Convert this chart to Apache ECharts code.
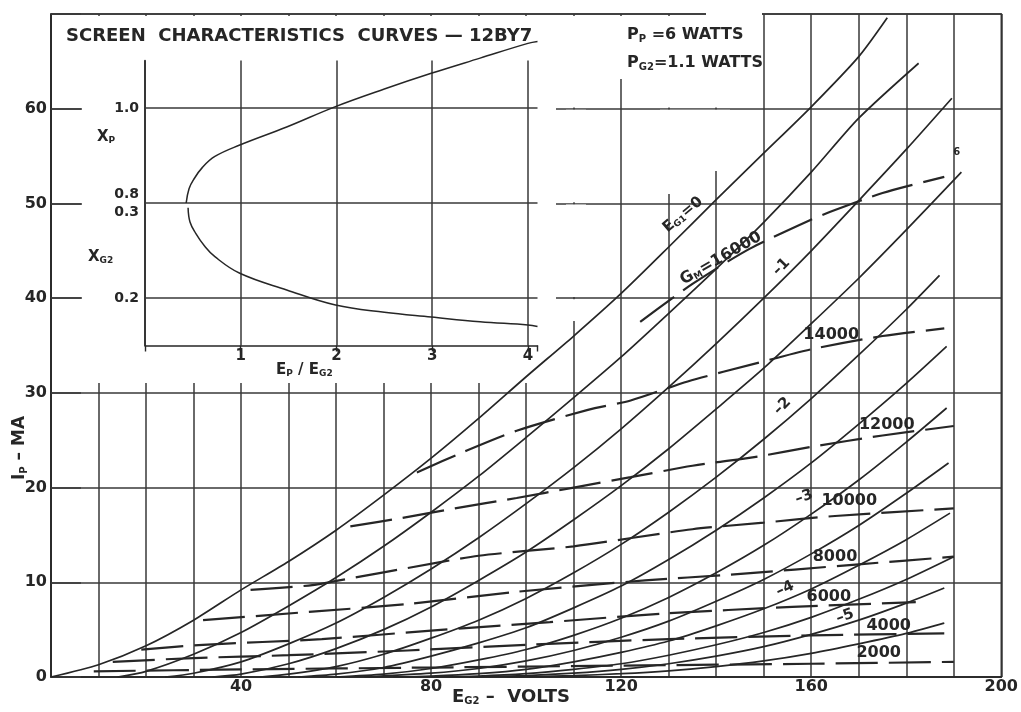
<!DOCTYPE html>
<html><head><meta charset="utf-8">
<script src="https://cdn.jsdelivr.net/npm/echarts@6/dist/echarts.min.js"></script>
<style>html,body{margin:0;padding:0;background:#fff}#c{width:1021px;height:712px}</style>
</head><body><div id="c"></div>
<script>
// ---------- DATA ----------
// Screen voltage E_G2 (V) vs plate current I_P (mA), constant control-grid voltage E_G1
const eg1Values = [0, -0.5, -1, -1.5, -2, -2.5, -3, -3.5, -4, -4.5, -5, -5.5];
const eg1_0    = [[0,0],[10,1.3],[20,3.3],[30,6.0],[40,9.2],[50,12.2],[60,15.5],[70,19.2],[80,23.1],[90,27.3],[100,31.7],[110,36.0],[120,40.5],[130,45.4],[140,50.4],[150,55.3],[160,60.2],[170,65.5],[176,69.6]];
const eg1_m0_5 = [[14,0],[20,0.6],[30,2.4],[40,4.7],[50,7.5],[60,10.5],[70,13.8],[80,17.4],[90,21.2],[100,25.3],[110,29.5],[120,33.8],[130,38.4],[140,43.1],[150,48.0],[160,53.3],[170,59.0],[182.6,64.8]];
const eg1_m1   = [[24,0],[30,0.4],[40,1.6],[50,3.5],[60,5.7],[70,8.4],[80,11.4],[90,14.7],[100,18.3],[110,22.1],[120,26.2],[130,30.6],[140,35.2],[150,40.0],[160,45.0],[170,50.3],[180,55.7],[189.6,61.1]];
const eg1_m1_5 = [[34,0],[40,0.3],[50,1.4],[60,3.0],[70,5.0],[80,7.4],[90,10.2],[100,13.2],[110,16.6],[120,20.2],[130,24.1],[140,28.3],[150,32.6],[160,37.3],[170,42.1],[180,47.2],[191.6,53.3]];
const eg1_m2   = [[44,0],[50,0.3],[60,1.1],[70,2.4],[80,4.1],[90,6.0],[100,8.3],[110,11.0],[120,14.0],[130,17.4],[140,21.1],[150,25.1],[160,29.4],[170,34.0],[180,38.8],[187,42.4]];
const eg1_m2_5 = [[52,0],[60,0.3],[70,1.0],[80,2.2],[90,3.6],[100,5.2],[110,7.3],[120,9.6],[130,12.4],[140,15.5],[150,18.9],[160,22.6],[170,26.7],[180,31.0],[188.5,34.9]];
const eg1_m3   = [[60,0],[70,0.3],[80,0.9],[90,1.8],[100,2.9],[110,4.4],[120,6.2],[130,8.4],[140,11.0],[150,13.9],[160,17.2],[170,20.8],[180,24.8],[188.5,28.4]];
const eg1_m3_5 = [[66,0],[80,0.4],[90,0.9],[100,1.7],[110,2.8],[120,4.2],[130,5.9],[140,8.0],[150,10.3],[160,13.0],[170,16.0],[180,19.4],[188.9,22.6]];
const eg1_m4   = [[72,0],[80,0.1],[90,0.35],[100,0.8],[110,1.6],[120,2.6],[130,3.8],[140,5.4],[150,7.2],[160,9.3],[170,11.8],[180,14.5],[189.2,17.3]];
const eg1_m4_5 = [[80,0],[90,0.1],[100,0.35],[110,0.8],[120,1.4],[130,2.3],[140,3.4],[150,4.7],[160,6.3],[170,8.2],[180,10.3],[190,12.7]];
const eg1_m5   = [[88,0],[100,0.15],[110,0.4],[120,0.8],[130,1.4],[140,2.2],[150,3.2],[160,4.5],[170,6.0],[180,7.8],[188,9.4]];
const eg1_m5_5 = [[96,0],[110,0.15],[120,0.35],[130,0.65],[140,1.1],[150,1.7],[160,2.5],[170,3.5],[180,4.6],[188,5.7]];

// Constant transconductance G_M (micromhos), dashed
const gmValues = [2000, 4000, 6000, 8000, 10000, 12000, 14000, 16000];
const gm2000  = [[9,0.6],[40,0.8],[80,1.0],[120,1.2],[160,1.4],[190,1.6]];
const gm4000  = [[13,1.6],[30,2.0],[50,2.3],[75,2.8],[100,3.4],[130,4.0],[160,4.4],[188,4.6]];
const gm6000  = [[19,2.9],[32,3.4],[57,4.0],[80,4.9],[105,5.8],[129,6.7],[156,7.4],[182,7.9]];
const gm8000  = [[32,6.0],[55,6.9],[75,7.7],[98,9.0],[125,10.2],[143,10.8],[170,11.9],[190,12.7]];
const gm10000 = [[42,9.2],[55,9.7],[65,10.6],[75,11.5],[90,12.8],[110,13.8],[135,15.6],[150,16.3],[165,17.0],[190,17.8]];
const gm12000 = [[63,15.9],[74,16.8],[85,17.8],[98,18.9],[110,20.0],[122,21.1],[135,22.3],[149,23.3],[160,24.3],[175,25.5],[190,26.5]];
const gm14000 = [[77,21.6],[87,23.8],[98,26.0],[113,28.2],[122,29.2],[134,31.2],[149,33.2],[160,34.6],[175,36.0],[188,36.8]];
const gm16000 = [[124,37.5],[135,41.5],[147,45.2],[160,48.3],[165,49.3],[175,51.1],[188,52.8]];

// Inset: X_P and X_G2 vs E_P / E_G2
const insetXp  = [[0.43,0.80],[0.46,0.83],[0.51,0.85],[0.60,0.875],[0.73,0.898],[0.99,0.922],[1.48,0.96],[1.99,1.003],[2.5,1.04],[2.99,1.073],[3.5,1.105],[4.0,1.136],[4.1,1.14]];
const insetXg2 = [[0.45,0.295],[0.47,0.28],[0.53,0.268],[0.62,0.255],[0.73,0.2435],[0.99,0.226],[1.48,0.2085],[1.99,0.1926],[2.5,0.185],[2.99,0.180],[3.5,0.175],[4.0,0.1716],[4.1,0.170]];

// tick labels
const mainXLabels = [40, 80, 120, 160, 200];
const mainYLabels = [0, 10, 20, 30, 40, 50, 60];
const insetXLabels = [1, 2, 3, 4];

// ---------- CHART ----------
const ink = '#262626';
const gridInk = '#383838';
const ff = 'DejaVu Sans';
const subStyle = {fontSize: 9, fontWeight: 'bold', fontFamily: ff, color: ink, padding: [7, 0, 0, 0]};
const subStyleBig = {fontSize: 10, fontWeight: 'bold', fontFamily: ff, color: ink, padding: [8, 0, 0, 0]};
const near = (a, list) => list.some(b => Math.abs(a - b) < 1e-6);

const chart = echarts.init(document.getElementById('c'), null, {renderer: 'canvas'});

// white masks that leave blank paper where the original drawing has no grid (pixel layout)
const maskRects = [
  [82, 16, 556, 383],
  [706, 8, 762, 18],
  [600, 16, 762, 79],
  [566, 16, 586, 107.6], [566, 109.8, 586, 202.3], [566, 204.5, 586, 297.0], [566, 299.2, 586, 321],
  [660, 79, 730, 107.6], [660, 109.8, 730, 171], [660, 171, 682, 194]
];

const grids = [
  {left: 51, top: 14, right: 16, bottom: 35, show: true, borderColor: ink, borderWidth: 1.5, backgroundColor: 'transparent', z: 0}
];
const xAxes = [
  {gridIndex: 0, type: 'value', min: 0, max: 200, interval: 10, z: 1,
    axisLine: {show: true, onZero: false, lineStyle: {color: ink, width: 1.6}},
    axisTick: {show: false},
    splitLine: {show: true, lineStyle: {color: gridInk, width: 1.5}},
    axisLabel: {margin: 2, showMaxLabel: true, showMinLabel: true, color: ink, fontFamily: ff, fontWeight: 'bold', fontSize: 16,
      formatter: v => near(v, mainXLabels) ? String(v) : ''}}
];
const yAxes = [
  {gridIndex: 0, type: 'value', min: 0, max: 70, interval: 10, z: 1,
    axisLine: {show: true, onZero: false, lineStyle: {color: ink, width: 1.6}},
    axisTick: {show: true, inside: true, length: 30, lineStyle: {color: gridInk, width: 1.5}},
    splitLine: {show: true, lineStyle: {color: gridInk, width: 1.5}},
    axisLabel: {margin: 4, color: ink, fontFamily: ff, fontWeight: 'bold', fontSize: 16,
      formatter: v => near(v, mainYLabels) ? String(v) : ''}}
];
maskRects.forEach(r => {
  const gi = grids.length;
  grids.push({left: r[0], top: r[1], width: r[2] - r[0], height: r[3] - r[1], show: true,
    backgroundColor: '#ffffff', borderWidth: 0, z: 3});
  xAxes.push({gridIndex: gi, type: 'value', show: false, min: 0, max: 1});
  yAxes.push({gridIndex: gi, type: 'value', show: false, min: 0, max: 1});
});
const insetGrid = grids.length;
grids.push({left: 145, top: 60.5, width: 392.5, height: 285, show: false, z: 4});
const insetX = xAxes.length;
xAxes.push({gridIndex: insetGrid, type: 'value', min: 0, max: 4.1, interval: 1, z: 4,
  axisLine: {show: true, onZero: false, lineStyle: {color: ink, width: 1.5}},
  axisTick: {show: true, length: 6, lineStyle: {color: ink, width: 1.4}},
  splitLine: {show: true, showMaxLine: false, lineStyle: {color: gridInk, width: 1.5}},
  axisLabel: {margin: 3, color: ink, fontFamily: ff, fontWeight: 'bold', fontSize: 15,
    formatter: v => near(v, insetXLabels) ? String(v) : ''}});
const insetYp = yAxes.length;
yAxes.push({gridIndex: insetGrid, type: 'value', min: 0.5, max: 1.1, interval: 0.1, position: 'left', z: 4,
  axisLine: {show: true, onZero: false, lineStyle: {color: ink, width: 1.5}},
  axisTick: {show: false}, splitLine: {show: false},
  axisLabel: {margin: 6, lineHeight: 18, color: ink, fontFamily: ff, fontWeight: 'bold', fontSize: 14,
    formatter: v => near(v, [1.0]) ? '1.0' : (near(v, [0.8]) ? '0.8\n ' : '')}});
const insetYg2 = yAxes.length;
yAxes.push({gridIndex: insetGrid, type: 'value', min: 0.15, max: 0.45, interval: 0.05, position: 'left', z: 4,
  axisLine: {show: false}, axisTick: {show: false}, splitLine: {show: false},
  axisLabel: {margin: 6, lineHeight: 18, color: ink, fontFamily: ff, fontWeight: 'bold', fontSize: 14,
    formatter: v => near(v, [0.2]) ? '0.2' : (near(v, [0.3]) ? ' \n0.3' : '')}});

const solid = [eg1_0, eg1_m0_5, eg1_m1, eg1_m1_5, eg1_m2, eg1_m2_5, eg1_m3, eg1_m3_5, eg1_m4, eg1_m4_5, eg1_m5, eg1_m5_5];
const dashed = [gm2000, gm4000, gm6000, gm8000, gm10000, gm12000, gm14000, gm16000];

function lbl(coord, text, opt) {
  return {coord: coord, symbol: 'circle', symbolSize: 0,
    label: Object.assign({show: true, formatter: text, position: 'inside', color: ink,
      fontFamily: ff, fontWeight: 'bold', fontSize: 16, rich: {s: subStyle}}, opt || {})};
}

const series = [];
solid.forEach((d, i) => {
  series.push({
    type: 'line', name: 'EG1=' + eg1Values[i], xAxisIndex: 0, yAxisIndex: 0, data: d,
    smooth: 0.25, symbol: 'none', silent: true, z: 5,
    lineStyle: {color: ink, width: 1.7}
  });
});
dashed.forEach((d, i) => {
  series.push({
    type: 'line', name: 'GM=' + gmValues[i], xAxisIndex: 0, yAxisIndex: 0, data: d,
    smooth: 0.25, symbol: 'none', silent: true, z: 5,
    lineStyle: {color: ink, width: 2.2, type: [42, 11]}
  });
});
// curve annotations (data coordinates)
series[0].markPoint = {silent: true, animation: false, data: [
  lbl([133, 48.8], 'E{s|G1}=0', {rotate: 40, fontSize: 15}),
  lbl([141, 44.2], 'G{s|M}=16000', {rotate: 30, fontSize: 16}),
  lbl([153.7, 43.3], '–1', {rotate: 45, fontSize: 15}),
  lbl([153.9, 28.6], '–2', {rotate: 45, fontSize: 15}),
  lbl([158.5, 19.0], '–3', {rotate: 20, fontSize: 15}),
  lbl([154.5, 9.3], '–4', {rotate: 25, fontSize: 15}),
  lbl([167.1, 6.4], '–5', {rotate: 20, fontSize: 15}),
  lbl([164.2, 36.1], '14000'),
  lbl([175.9, 26.6], '12000'),
  lbl([168.0, 18.6], '10000'),
  lbl([165.0, 12.7], '8000'),
  lbl([163.7, 8.5], '6000'),
  lbl([176.3, 5.4], '4000'),
  lbl([174.2, 2.6], '2000'),
  lbl([190.6, 55.4], '6', {fontSize: 10})
]};

// inset series
series.push({
  type: 'line', name: 'XP', xAxisIndex: insetX, yAxisIndex: insetYp, data: insetXp, clip: false,
  smooth: 0.4, symbol: 'none', silent: true, z: 5, lineStyle: {color: ink, width: 1.5},
  markLine: {silent: true, symbol: ['none', 'none'], animation: false, label: {show: false},
    lineStyle: {color: gridInk, width: 1.5, type: 'solid'}, data: [{yAxis: 0.8}, {yAxis: 1.0}]}
});
series.push({
  type: 'line', name: 'XG2', xAxisIndex: insetX, yAxisIndex: insetYg2, data: insetXg2, clip: false,
  smooth: 0.4, symbol: 'none', silent: true, z: 5, lineStyle: {color: ink, width: 1.5},
  markLine: {silent: true, symbol: ['none', 'none'], animation: false, label: {show: false},
    lineStyle: {color: gridInk, width: 1.5, type: 'solid'}, data: [{yAxis: 0.2}]}
});

const option = {
  animation: false,
  backgroundColor: '#ffffff',
  grid: grids, xAxis: xAxes, yAxis: yAxes,
  series: series,
  graphic: [
    {type: 'text', left: 66, top: 27, z: 10, silent: true,
      style: {text: 'SCREEN  CHARACTERISTICS  CURVES — 12BY7', fill: ink, font: 'bold 18px "DejaVu Sans"'}},
    {type: 'text', left: 627, top: 27, z: 10, silent: true,
      style: {text: 'P{s|P} =6 WATTS', fill: ink, font: 'bold 16px "DejaVu Sans"', rich: {s: subStyleBig}}},
    {type: 'text', left: 627, top: 55, z: 10, silent: true,
      style: {text: 'P{s|G2}=1.1 WATTS', fill: ink, font: 'bold 16px "DejaVu Sans"', rich: {s: subStyleBig}}},
    {type: 'text', left: 97, top: 130, z: 10, silent: true,
      style: {text: 'X{s|P}', fill: ink, font: 'bold 15px "DejaVu Sans"', rich: {s: subStyle}}},
    {type: 'text', left: 88, top: 250, z: 10, silent: true,
      style: {text: 'X{s|G2}', fill: ink, font: 'bold 15px "DejaVu Sans"', rich: {s: subStyle}}},
    {type: 'text', left: 276, top: 363, z: 10, silent: true,
      style: {text: 'E{s|P} / E{s|G2}', fill: ink, font: 'bold 15px "DejaVu Sans"', rich: {s: subStyle}}},
    {type: 'text', left: 452, top: 688, z: 10, silent: true,
      style: {text: 'E{s|G2} –  VOLTS', fill: ink, font: 'bold 18px "DejaVu Sans"', rich: {s: subStyleBig}}},
    {type: 'text', x: 11, y: 480, rotation: Math.PI / 2, z: 10, silent: true,
      style: {text: 'I{s|P} – MA', fill: ink, font: 'bold 17px "DejaVu Sans"', rich: {s: subStyleBig}}}
  ]
};
chart.setOption(option);
</script></body></html>
